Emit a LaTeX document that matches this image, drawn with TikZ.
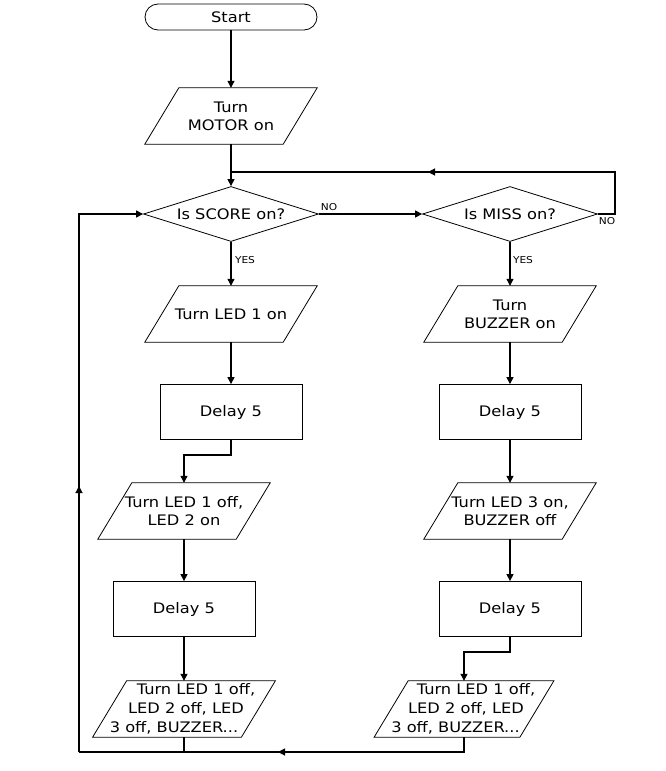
\documentclass[tikz,border=0pt]{standalone}
\usepackage{fontspec}
\setmainfont[FakeStretch=1.12]{DejaVu Sans}
\usetikzlibrary{shapes.geometric,arrows.meta,calc}
\begin{document}
\begin{tikzpicture}[x=1pt,y=-1pt,
  base/.style={font=\fontsize{14.5}{18}\selectfont, align=center, inner sep=0pt},
  term/.style={base, draw, line width=0.8pt, rounded corners=13pt, minimum width=172pt, minimum height=26pt},
  proc/.style={base, draw, line width=0.8pt, minimum width=142pt, minimum height=55pt},
  para/.style={base, minimum width=138pt, minimum height=56pt},
  dec/.style={base, draw, line width=0.8pt, diamond, aspect=3.2, minimum width=175pt, minimum height=55pt},
  tip/.style={-{Triangle[length=7pt,width=7pt]}},
  con/.style={line width=1.1pt},
  lbl/.style={font=\fontsize{9.5}{10}\selectfont, inner sep=0pt}
]
\useasboundingbox[fill=white] (0,0) rectangle (665,771);

% nodes
\node[term] (start) at (231,17) {Start};
\node[para] (motor) at (231,116) {Turn\\MOTOR on};
\node[dec] (score) at (231,214) {Is SCORE on?};
\node[dec] (miss) at (510,214) {Is MISS on?};
\node[para] (led1) at (231,314) {Turn LED 1 on};
\node[proc] (d1) at (231,412) {Delay 5};
\node[para] (led12) at (184,511) {Turn LED 1 off,\\LED 2 on};
\node[proc] (d2) at (184,609) {Delay 5};
\node[para, font=\fontsize{14.5}{19}\selectfont] (off1) at (184,709)
  {\makebox[24pt]{}Turn LED 1 off,\\\makebox[4pt]{}LED 2 off, LED\\3 off, BUZZER...\makebox[20pt]{}};
\node[para] (buzz) at (510,314) {Turn\\BUZZER on};
\node[proc] (d3) at (510,412) {Delay 5};
\node[para] (led3) at (510,511) {Turn LED 3 on,\\BUZZER off};
\node[proc] (d4) at (510,609) {Delay 5};
\node[para, font=\fontsize{14.5}{19}\selectfont] (off2) at (464,709)
  {\makebox[24pt]{}Turn LED 1 off,\\\makebox[4pt]{}LED 2 off, LED\\3 off, BUZZER...\makebox[17pt]{}};

% parallelogram outlines
\foreach \n in {motor,led1,led12,off1,buzz,led3,off2}
  \draw[line width=0.8pt] ([xshift=17pt]\n.north west) -- ([xshift=17pt]\n.north east)
    -- ([xshift=-17pt]\n.south east) -- ([xshift=-17pt]\n.south west) -- cycle;

% labels
\node[lbl] (no1) at (329,207) {NO};
\node[lbl] (yes1) at (245,260) {YES};
\node[lbl] (no2) at (607,221) {NO};
\node[lbl] (yes2) at (523,260) {YES};

% coordinates
\coordinate (j1) at (231,172);
\coordinate (r1) at (615,214);
\coordinate (r2) at (615,172);
\coordinate (ra) at (428,172);
\coordinate (b1) at (231,455);
\coordinate (b2) at (184,455);
\coordinate (b3) at (510,652);
\coordinate (b4) at (464,652);
\coordinate (f1) at (184,752);
\coordinate (f2) at (464,752);
\coordinate (fa) at (278,752);
\coordinate (l1) at (79,752);
\coordinate (la) at (79,486);
\coordinate (l2) at (79,214);

% connectors
\draw[con,tip] (start) -- (motor);
\draw[con,tip] (motor) -- (score);
\draw[con,tip] (score.east) -- (miss.west);
\draw[con,tip] (score) -- (led1);
\draw[con,tip] (miss) -- (buzz);
\draw[con] (miss.east) -- (r1) -- (r2) -- (j1);
\draw[con,tip] (r2) -- (ra);
\draw[con,tip] (led1) -- (d1);
\draw[con,tip] (d1.south) -- (b1) -- (b2) -- (led12.north);
\draw[con,tip] (led12) -- (d2);
\draw[con,tip] (d2) -- (off1);
\draw[con,tip] (buzz) -- (d3);
\draw[con,tip] (d3) -- (led3);
\draw[con,tip] (led3) -- (d4);
\draw[con,tip] (d4.south) -- (b3) -- (b4) -- (off2.north);
\draw[con] (off2.south) -- (f2) -- (l1);
\draw[con] (off1.south) -- (f1);
\draw[con,tip] (f2) -- (fa);
\draw[con,tip] (l1) -- (l2) -- (score.west);
\draw[con,tip] (l1) -- (la);
\end{tikzpicture}
\end{document}
